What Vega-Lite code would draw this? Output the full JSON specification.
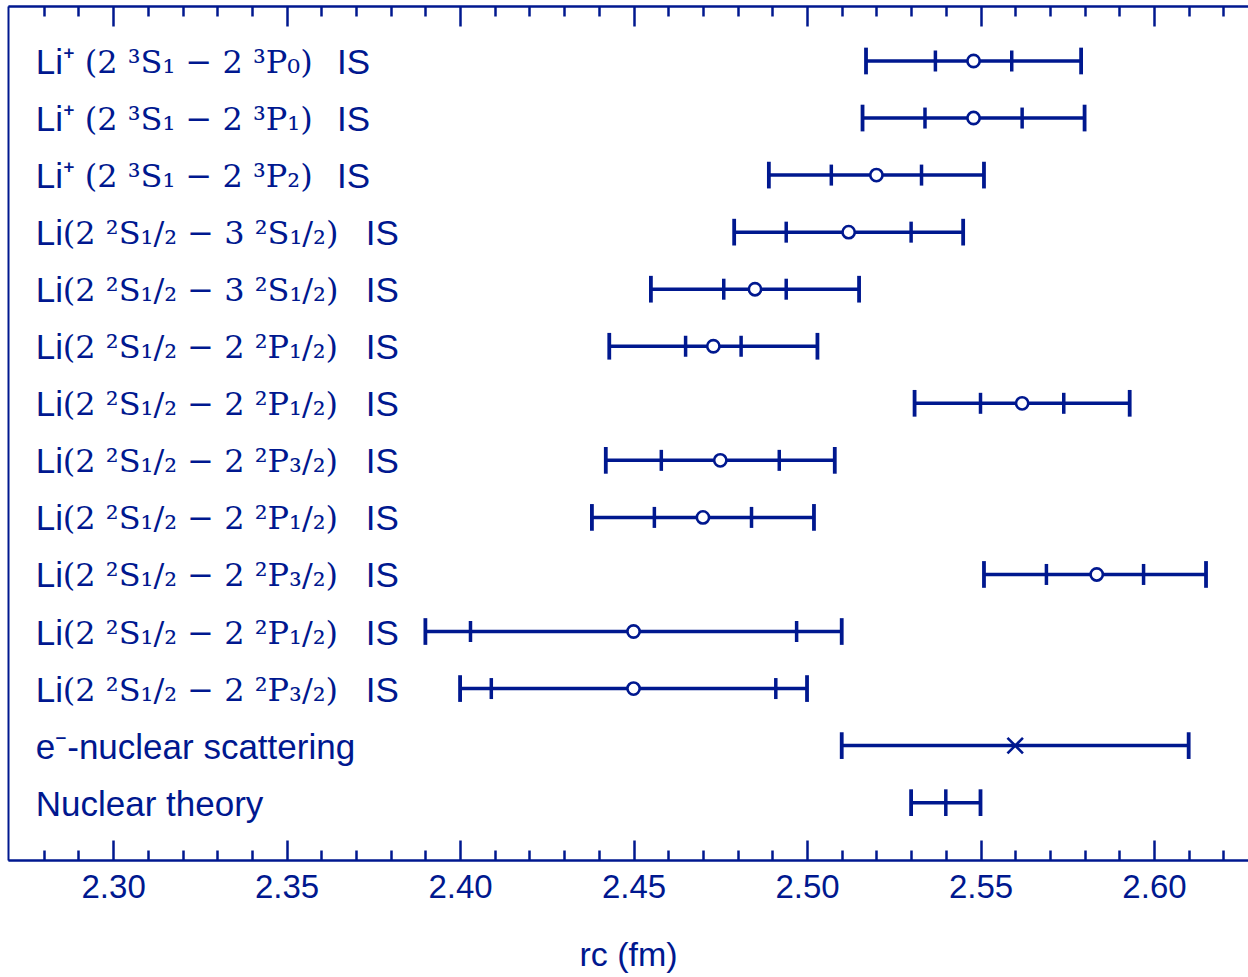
{
  "$schema": "https://vega.github.io/schema/vega-lite/v6.json",
  "width": 1240,
  "height": 854,
  "autosize": {"type": "none"},
  "padding": {"left": 8, "top": 6, "right": 0, "bottom": 117},
  "background": "white",
  "config": {
    "view": {"stroke": null},
    "axis": {"domainColor": "#00188f", "tickColor": "#00188f", "labelColor": "#00188f", "titleColor": "#00188f", "grid": false, "domainWidth": 2, "tickWidth": 2.5}
  },
  "data": {
    "values": [
      {"row": 1, "pre": "Li⁺", "math": "(2 ³S₁ − 2 ³P₀)", "post": "IS", "grp": "ion", "x": 2.548, "lo1": 2.537, "hi1": 2.559, "lo2": 2.517, "hi2": 2.579, "mk": "o"},
      {"row": 2, "pre": "Li⁺", "math": "(2 ³S₁ − 2 ³P₁)", "post": "IS", "grp": "ion", "x": 2.548, "lo1": 2.534, "hi1": 2.562, "lo2": 2.516, "hi2": 2.580, "mk": "o"},
      {"row": 3, "pre": "Li⁺", "math": "(2 ³S₁ − 2 ³P₂)", "post": "IS", "grp": "ion", "x": 2.520, "lo1": 2.507, "hi1": 2.533, "lo2": 2.489, "hi2": 2.551, "mk": "o"},
      {"row": 4, "pre": "Li", "math": "(2 ²S₁/₂ − 3 ²S₁/₂)", "post": "IS", "grp": "neu", "x": 2.512, "lo1": 2.494, "hi1": 2.530, "lo2": 2.479, "hi2": 2.545, "mk": "o"},
      {"row": 5, "pre": "Li", "math": "(2 ²S₁/₂ − 3 ²S₁/₂)", "post": "IS", "grp": "neu", "x": 2.485, "lo1": 2.476, "hi1": 2.494, "lo2": 2.455, "hi2": 2.515, "mk": "o"},
      {"row": 6, "pre": "Li", "math": "(2 ²S₁/₂ − 2 ²P₁/₂)", "post": "IS", "grp": "neu", "x": 2.473, "lo1": 2.465, "hi1": 2.481, "lo2": 2.443, "hi2": 2.503, "mk": "o"},
      {"row": 7, "pre": "Li", "math": "(2 ²S₁/₂ − 2 ²P₁/₂)", "post": "IS", "grp": "neu", "x": 2.562, "lo1": 2.550, "hi1": 2.574, "lo2": 2.531, "hi2": 2.593, "mk": "o"},
      {"row": 8, "pre": "Li", "math": "(2 ²S₁/₂ − 2 ²P₃/₂)", "post": "IS", "grp": "neu", "x": 2.475, "lo1": 2.458, "hi1": 2.492, "lo2": 2.442, "hi2": 2.508, "mk": "o"},
      {"row": 9, "pre": "Li", "math": "(2 ²S₁/₂ − 2 ²P₁/₂)", "post": "IS", "grp": "neu", "x": 2.470, "lo1": 2.456, "hi1": 2.484, "lo2": 2.438, "hi2": 2.502, "mk": "o"},
      {"row": 10, "pre": "Li", "math": "(2 ²S₁/₂ − 2 ²P₃/₂)", "post": "IS", "grp": "neu", "x": 2.5835, "lo1": 2.569, "hi1": 2.597, "lo2": 2.551, "hi2": 2.615, "mk": "o"},
      {"row": 11, "pre": "Li", "math": "(2 ²S₁/₂ − 2 ²P₁/₂)", "post": "IS", "grp": "neu", "x": 2.450, "lo1": 2.403, "hi1": 2.497, "lo2": 2.390, "hi2": 2.510, "mk": "o"},
      {"row": 12, "pre": "Li", "math": "(2 ²S₁/₂ − 2 ²P₃/₂)", "post": "IS", "grp": "neu", "x": 2.450, "lo1": 2.409, "hi1": 2.491, "lo2": 2.400, "hi2": 2.500, "mk": "o"},
      {"row": 13, "pre": "e⁻-nuclear scattering", "math": "", "post": "", "grp": "other", "x": 2.560, "lo1": null, "hi1": null, "lo2": 2.510, "hi2": 2.610, "mk": "x"},
      {"row": 14, "pre": "Nuclear theory", "math": "", "post": "", "grp": "other", "x": 2.540, "lo1": null, "hi1": null, "lo2": 2.530, "hi2": 2.550, "mk": "|"}
    ]
  },
  "resolve": {"axis": {"x": "independent"}},
  "layer": [
    {
      "mark": {"type": "rule", "color": "#00188f", "strokeWidth": 3.5},
      "encoding": {
        "x": {
          "field": "lo2", "type": "quantitative",
          "scale": {"domain": [2.2697, 2.6271], "nice": false, "zero": false},
          "axis": {
            "orient": "bottom",
            "values": [2.28, 2.29, 2.31, 2.32, 2.33, 2.34, 2.36, 2.37, 2.38, 2.39, 2.41, 2.42, 2.43, 2.44, 2.46, 2.47, 2.48, 2.49, 2.51, 2.52, 2.53, 2.54, 2.56, 2.57, 2.58, 2.59, 2.61, 2.62],
            "labels": false,
            "tickSize": -10,
            "title": null
          }
        },
        "x2": {"field": "hi2"},
        "y": {
          "field": "row", "type": "quantitative",
          "scale": {"domain": [0.036, 15.005], "reverse": true, "nice": false, "zero": false},
          "axis": {"orient": "left", "domain": true, "domainWidth": 2, "ticks": false, "labels": false, "grid": false, "title": null}
        }
      }
    },
    {
      "transform": [{"fold": ["lo2", "hi2"], "as": ["k", "v"]}],
      "mark": {"type": "point", "shape": "M0,-1L0,1", "filled": false, "color": "#00188f", "strokeWidth": 3.8, "size": 713, "opacity": 1},
      "encoding": {
        "x": {
          "field": "v", "type": "quantitative",
          "axis": {
            "orient": "bottom",
            "values": [2.30, 2.35, 2.40, 2.45, 2.50, 2.55, 2.60],
            "format": ".2f",
            "tickSize": -20,
            "labelFont": "Liberation Sans",
            "labelFontSize": 33,
            "labelPadding": 31,
            "labelFlush": false,
            "labelOverlap": false,
            "title": "rc (fm)",
            "titleFont": "Liberation Sans",
            "titleFontSize": 34,
            "titleFontWeight": "normal",
            "titlePadding": 34
          }
        },
        "y": {"field": "row", "type": "quantitative"}
      }
    },
    {
      "transform": [{"filter": "datum.lo1 != null"}, {"fold": ["lo1", "hi1"], "as": ["k", "v"]}],
      "mark": {"type": "point", "shape": "M0,-1L0,1", "filled": false, "color": "#00188f", "strokeWidth": 3.5, "size": 441, "opacity": 1},
      "encoding": {
        "x": {
          "field": "v", "type": "quantitative",
          "axis": {
            "orient": "top",
            "values": [2.28, 2.29, 2.31, 2.32, 2.33, 2.34, 2.36, 2.37, 2.38, 2.39, 2.41, 2.42, 2.43, 2.44, 2.46, 2.47, 2.48, 2.49, 2.51, 2.52, 2.53, 2.54, 2.56, 2.57, 2.58, 2.59, 2.61, 2.62],
            "labels": false,
            "tickSize": -10,
            "title": null
          }
        },
        "y": {"field": "row", "type": "quantitative"}
      }
    },
    {
      "transform": [{"filter": "datum.mk == 'o'"}],
      "mark": {"type": "point", "shape": "circle", "filled": true, "fill": "white", "stroke": "#00188f", "strokeWidth": 2.6, "size": 150, "opacity": 1},
      "encoding": {
        "x": {
          "field": "x", "type": "quantitative",
          "axis": {
            "orient": "top",
            "values": [2.30, 2.35, 2.40, 2.45, 2.50, 2.55, 2.60],
            "labels": false,
            "tickSize": -20,
            "title": null
          }
        },
        "y": {"field": "row", "type": "quantitative"}
      }
    },
    {
      "transform": [{"filter": "datum.mk == '|'"}],
      "mark": {"type": "point", "shape": "M0,-1L0,1", "filled": false, "color": "#00188f", "strokeWidth": 3.5, "size": 713, "opacity": 1},
      "encoding": {
        "x": {"field": "x", "type": "quantitative", "axis": null},
        "y": {"field": "row", "type": "quantitative"}
      }
    },
    {
      "transform": [{"filter": "datum.mk == 'x'"}],
      "mark": {"type": "point", "shape": "M-1,-1L1,1M1,-1L-1,1", "filled": false, "color": "#00188f", "strokeWidth": 2.6, "size": 240, "opacity": 1},
      "encoding": {
        "x": {"field": "x", "type": "quantitative", "axis": null},
        "y": {"field": "row", "type": "quantitative"}
      }
    },
    {
      "mark": {"type": "text", "align": "left", "baseline": "middle", "dy": 2, "font": "Liberation Sans", "fontSize": 35, "color": "#00188f"},
      "encoding": {
        "x": {"datum": 2.2777, "type": "quantitative", "axis": null},
        "y": {"field": "row", "type": "quantitative"},
        "text": {"field": "pre"}
      }
    },
    {
      "transform": [{"filter": "datum.grp == 'ion'"}],
      "mark": {"type": "text", "align": "left", "baseline": "middle", "dy": 2, "font": "DejaVu Serif", "fontSize": 32, "color": "#00188f"},
      "encoding": {
        "x": {"datum": 2.2918, "type": "quantitative", "axis": null},
        "y": {"field": "row", "type": "quantitative"},
        "text": {"field": "math"}
      }
    },
    {
      "transform": [{"filter": "datum.grp == 'neu'"}],
      "mark": {"type": "text", "align": "left", "baseline": "middle", "dy": 2, "font": "DejaVu Serif", "fontSize": 32, "color": "#00188f"},
      "encoding": {
        "x": {"datum": 2.2855, "type": "quantitative", "axis": null},
        "y": {"field": "row", "type": "quantitative"},
        "text": {"field": "math"}
      }
    },
    {
      "transform": [{"filter": "datum.grp == 'ion'"}],
      "mark": {"type": "text", "align": "left", "baseline": "middle", "dy": 2, "font": "Liberation Sans", "fontSize": 35, "color": "#00188f"},
      "encoding": {
        "x": {"datum": 2.3645, "type": "quantitative", "axis": null},
        "y": {"field": "row", "type": "quantitative"},
        "text": {"field": "post"}
      }
    },
    {
      "transform": [{"filter": "datum.grp == 'neu'"}],
      "mark": {"type": "text", "align": "left", "baseline": "middle", "dy": 2, "font": "Liberation Sans", "fontSize": 35, "color": "#00188f"},
      "encoding": {
        "x": {"datum": 2.3728, "type": "quantitative", "axis": null},
        "y": {"field": "row", "type": "quantitative"},
        "text": {"field": "post"}
      }
    }
  ]
}
